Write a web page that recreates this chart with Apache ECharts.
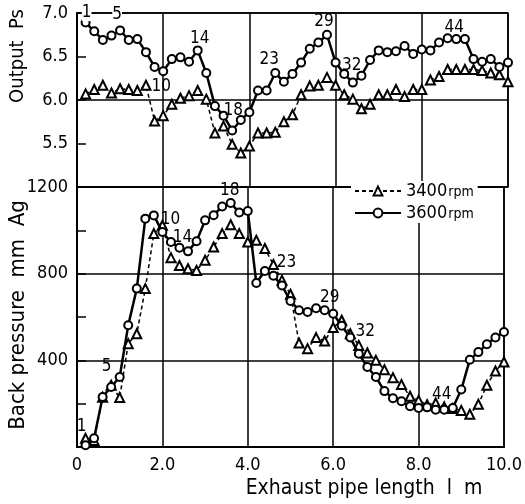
<!DOCTYPE html>
<html><head><meta charset="utf-8">
<script src="https://cdn.jsdelivr.net/npm/echarts@6/dist/echarts.min.js"></script>
<style>html,body{margin:0;padding:0;background:#fff}#c{width:525px;height:504px}</style>
</head><body><div id="c"></div>
<script>
// Exhaust pipe length (m) of each measured point 1..51
const lengths = [0.2,0.4,0.6,0.8,1.0,1.2,1.4,1.6,1.8,2.0,2.2,2.4,2.6,2.8,3.0,3.2,3.4,3.6,3.8,4.0,
  4.2,4.4,4.6,4.8,5.0,5.2,5.4,5.6,5.8,6.0,6.2,6.4,6.6,6.8,7.0,7.2,7.4,7.6,7.8,8.0,
  8.2,8.4,8.6,8.8,9.0,9.2,9.4,9.6,9.8,10.0,10.2];
// Output Ps
const out3400 = [6.07,6.12,6.17,6.08,6.13,6.12,6.11,6.17,5.76,5.82,5.95,6.02,6.05,6.11,6.01,5.62,5.70,5.49,5.39,5.47,
  5.62,5.62,5.63,5.75,5.83,6.06,6.16,6.17,6.26,6.17,6.06,6.01,5.90,5.95,6.06,6.06,6.12,6.04,6.12,6.12,
  6.23,6.27,6.35,6.35,6.35,6.35,6.34,6.31,6.29,6.21,6.15];
const out3600 = [6.89,6.79,6.69,6.74,6.80,6.69,6.70,6.55,6.38,6.33,6.47,6.49,6.44,6.57,6.31,5.93,5.82,5.65,5.77,5.86,
  6.11,6.11,6.31,6.21,6.30,6.43,6.59,6.66,6.75,6.43,6.30,6.20,6.28,6.46,6.57,6.55,6.56,6.62,6.53,6.58,
  6.57,6.66,6.71,6.70,6.70,6.47,6.44,6.47,6.38,6.43,6.29];
// Back pressure mm Ag
const bp3400 = [40,30,230,285,228,477,523,731,985,1023,874,838,823,815,862,923,985,1026,985,946,
  954,916,842,770,705,480,454,505,489,551,585,523,469,434,400,357,320,288,234,215,
  195,203,185,178,169,151,197,285,351,392,443];
const bp3600 = [8,40,231,277,323,562,731,1054,1069,992,946,920,903,950,1046,1070,1110,1126,1082,1089,
  757,812,790,745,674,631,623,640,631,615,560,505,430,369,323,258,225,211,188,180,
  183,172,172,180,265,403,438,474,505,531,542];
// numbered points
const labelledPoints = [1,5,10,14,18,23,29,32,44,51];
const seriesNames = ['3400rpm','3600rpm'];
const outTicks = [5.5,6.0,6.5,7.0];
const bpTicks = [400,800,1200];

// label offsets (styling only)
const topOff = {1:[1,-10],5:[-3,-16],10:[-2,15],14:[2,-12],18:[1,-20],23:[-6,-13],29:[-3,-13],32:[-1,-17],44:[-2,-12],51:[5,-13]};
const botOff = {1:[-4,-19],5:[-13,-10],10:[8,-12],14:[-14,-4],18:[-1,-12],23:[13,-13],29:[5,-13],32:[15,-6],44:[-11,-13],51:[-1,-14]};

const FONT = '"DejaVu Sans Condensed","DejaVu Sans",sans-serif';

function mk(vals, offs) {
  return vals.map((v, i) => {
    const n = i + 1;
    const item = { value: [lengths[i], v] };
    if (offs && labelledPoints.indexOf(n) >= 0) {
      item.label = { show: true, position: 'inside', offset: offs[n], formatter: String(n),
        fontSize: 17, color: '#000', fontFamily: FONT,
        backgroundColor: (offs === topOff && (n === 1 || n === 5)) ? '#fff' : 'transparent' };
    }
    return item;
  });
}

const s3400 = { type: 'line', symbol: 'emptyTriangle', symbolSize: 9, color: '#000',
  itemStyle: { color: '#000', borderWidth: 1.3 }, lineStyle: { color: '#000', width: 1.5, type: [4, 3] },
  label: { show: false }, animation: false, z: 3 };
const s3600 = { type: 'line', symbol: 'emptyCircle', symbolSize: 8, color: '#000',
  itemStyle: { color: '#000', borderWidth: 1.4 }, lineStyle: { color: '#000', width: 2.5 },
  label: { show: false }, animation: false, z: 4 };

const xBase = { type: 'value', min: 0, max: 10, interval: 2,
  splitLine: { show: true, lineStyle: { color: '#000', width: 1.5 } },
  axisTick: { show: false } };

const chart = echarts.init(document.getElementById('c'), null, { renderer: 'canvas' });
chart.setOption({
  backgroundColor: '#fff',
  animation: false,
  grid: [
    { left: 77, right: 17, top: 13, height: 174, show: true, borderColor: '#000', borderWidth: 1.5, backgroundColor: 'transparent' },
    { left: 77, right: 17, top: 187, height: 260, show: true, borderColor: '#000', borderWidth: 1.5, backgroundColor: 'transparent' }
  ],
  xAxis: [
    Object.assign({}, xBase, { gridIndex: 0, axisLabel: { show: false }, axisLine: { show: false } }),
    Object.assign({}, xBase, { gridIndex: 1,
      axisLine: { show: true, lineStyle: { color: '#000', width: 2 } },
      axisLabel: { show: true, color: '#000', fontSize: 18, fontFamily: FONT, margin: 9,
        formatter: v => v === 0 ? '0' : v.toFixed(1) } })
  ],
  yAxis: [
    { type: 'value', gridIndex: 0, min: 5, max: 7, interval: 0.5,
      axisLine: { show: true, lineStyle: { color: '#000', width: 2 } },
      axisTick: { show: true, inside: true, length: 9, lineStyle: { color: '#000', width: 1.5 } },
      splitLine: { show: false },
      axisLabel: { color: '#000', fontSize: 18, fontFamily: FONT, margin: 9,
        formatter: v => outTicks.some(t => Math.abs(t - v) < 1e-6) ? v.toFixed(1) : '' } },
    { type: 'value', gridIndex: 0, min: 5, max: 7, interval: 1,
      axisLine: { show: false }, axisTick: { show: false }, axisLabel: { show: false },
      splitLine: { show: true, lineStyle: { color: '#000', width: 1.5 } } },
    { type: 'value', gridIndex: 1, min: 0, max: 1200, interval: 200,
      axisLine: { show: true, lineStyle: { color: '#000', width: 2 } },
      axisTick: { show: true, inside: true, length: 9, lineStyle: { color: '#000', width: 1.5 } },
      splitLine: { show: false },
      axisLabel: { color: '#000', fontSize: 18, fontFamily: FONT, margin: 9,
        formatter: v => bpTicks.indexOf(v) >= 0 ? String(v) : '' } },
    { type: 'value', gridIndex: 1, min: 0, max: 1200, interval: 400,
      axisLine: { show: false }, axisTick: { show: false }, axisLabel: { show: false },
      splitLine: { show: true, lineStyle: { color: '#000', width: 1.5 } } }
  ],
  legend: {
    data: seriesNames, orient: 'vertical', left: 351, top: 181, itemWidth: 46, itemHeight: 11, itemGap: 4,
    backgroundColor: '#fff', padding: [1, 4, 1, 3],
    formatter: n => '{a|' + n.replace('rpm', '') + '}{b|rpm}',
    textStyle: { color: '#000', fontFamily: FONT, rich: {
      a: { fontSize: 18, fontFamily: FONT, color: '#000' },
      b: { fontSize: 14, fontFamily: FONT, color: '#000', padding: [3, 0, 0, 1] } } }
  },
  series: [
    Object.assign({}, s3400, { name: seriesNames[0], xAxisIndex: 0, yAxisIndex: 0, data: mk(out3400, null) }),
    Object.assign({}, s3600, { name: seriesNames[1], xAxisIndex: 0, yAxisIndex: 0, data: mk(out3600, topOff) }),
    Object.assign({}, s3400, { name: seriesNames[0], xAxisIndex: 1, yAxisIndex: 2, data: mk(bp3400, null) }),
    Object.assign({}, s3600, { name: seriesNames[1], xAxisIndex: 1, yAxisIndex: 2, data: mk(bp3600, botOff) })
  ],
  graphic: [
    { type: 'text', x: 18, y: 56, rotation: Math.PI / 2,
      style: { text: 'Output  Ps', fontSize: 20, fontFamily: FONT, fill: '#000', align: 'center', verticalAlign: 'middle' } },
    { type: 'text', x: 18, y: 315, rotation: Math.PI / 2,
      style: { text: 'Back pressure  mm  Ag', fontSize: 22, fontFamily: FONT, fill: '#000', align: 'center', verticalAlign: 'middle' } },
    { type: 'text', x: 364, y: 489,
      style: { text: 'Exhaust pipe length  l  m', fontSize: 21, fontFamily: FONT, fill: '#000', align: 'center', verticalAlign: 'middle' } }
  ]
});
</script></body></html>
